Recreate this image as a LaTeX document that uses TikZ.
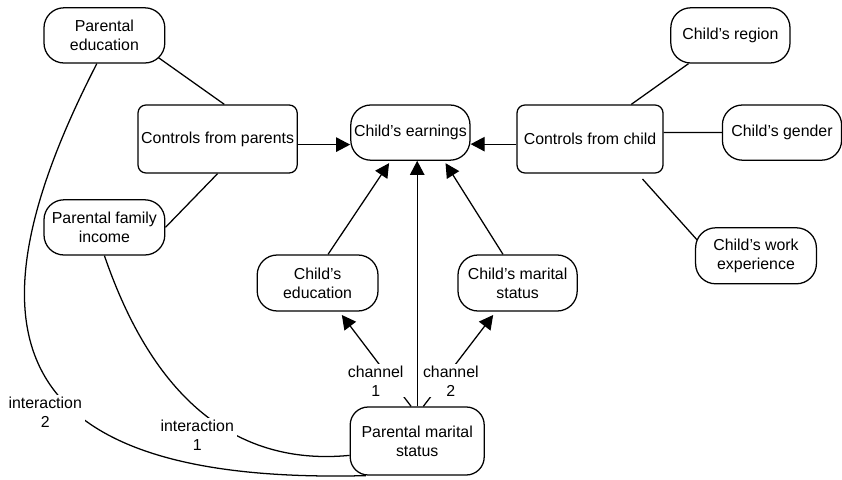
\documentclass[tikz,border=0pt]{standalone}
\usepackage{fontspec}
\setmainfont{Liberation Sans}
\usetikzlibrary{arrows.meta}
\tikzset{
  pill/.style={rectangle, draw, line width=0.9pt, rounded corners=0.5cm, align=center,
    minimum width=3.02cm, minimum height=1.38cm, inner sep=1pt},
  ctrlbox/.style={rectangle, draw, line width=0.9pt, rounded corners=0.2cm, align=center,
    minimum height=1.7cm, inner sep=1pt},
  lbl/.style={fill=white, align=center, inner xsep=2pt, inner ysep=1pt},
  conn/.style={line width=0.9pt},
  arr/.style={conn, -{Triangle[length=0.35cm,width=0.36cm]}},
}
\begin{document}
\begin{tikzpicture}[font=\fontsize{11.3}{13.5}\selectfont]
  \useasboundingbox (0,0) rectangle (21.05,11.975);
  \node [pill] (pedu) at (2.61,11.09) {Parental\\education};
  \node [pill] (pinc) at (2.61,6.29) {Parental family\\income};
  \node [ctrlbox, minimum width=3.98cm] (cpar) at (5.44,8.5) {Controls from parents};
  \node [pill, minimum width=2.98cm] (cearn) at (10.26,8.66) {Child's earnings};
  \node [ctrlbox, minimum width=3.65cm] (cchild) at (14.75,8.5) {Controls from child};
  \node [pill, minimum width=2.98cm] (creg) at (18.26,11.09) {Child's region};
  \node [pill, minimum width=2.98cm] (cgen) at (19.55,8.66) {Child's gender};
  \node [pill, minimum height=1.4cm] (cwork) at (18.9,5.58) {Child's work\\experience};
  \node [pill, minimum height=1.4cm] (cedu) at (7.94,4.9) {Child's\\education};
  \node [pill, minimum width=2.98cm, minimum height=1.4cm] (cmar) at (12.94,4.9) {Child's marital\\status};
  \node [ctrlbox, rounded corners=0.45cm, minimum width=3.35cm] (pmar) at (10.43,0.95) {Parental marital\\status};

  \draw [conn] ([shift={(-0.175,0.15)}]pedu.south east) -- (cpar.79);
  \draw [conn] (cpar.south) -- (pinc.east);
  \draw [arr] (cpar.-4) -- (cpar.-4 -| cearn.west);
  \draw [arr] (cchild.184) -- (cchild.184 -| cearn.east);
  \draw [conn] (cchild.40) -- (creg.214);
  \draw [conn] (cchild.5) -- (cgen.west);
  \draw [conn, shorten <=0.18cm] (cchild.-36) -- ([shift={(0.05,0.4)}]cwork.west);
  \draw [arr, shorten >=2pt] (cedu.70) -- (cearn.235);
  \draw [arr, shorten >=2pt] (cmar.117) -- (cearn.320);
  \draw [arr] (pmar.north) -- (pmar.north |- cearn.south);
  \draw [arr, shorten >=3pt] (pmar.100) -- node [lbl, pos=0.27, xshift=-0.4cm] (ch1) {channel\\1} (cedu);
  \draw [arr, shorten >=3pt] (pmar.80) -- node [lbl, pos=0.27, xshift=0.2cm] (ch2) {channel\\2} (cmar);
  \draw [conn] (pinc.south) .. controls (3.38,3.35) and (5,0.23) .. (pmar.192);
  \draw [conn] (pedu.255) .. controls (-1,3.73) and (0,-0.15) .. (pmar.214);
  \node [lbl] (int1) at (4.93,1.1) {interaction\\1};
  \node [lbl] (int2) at (1.13,1.68) {interaction\\2};
\end{tikzpicture}
\end{document}
